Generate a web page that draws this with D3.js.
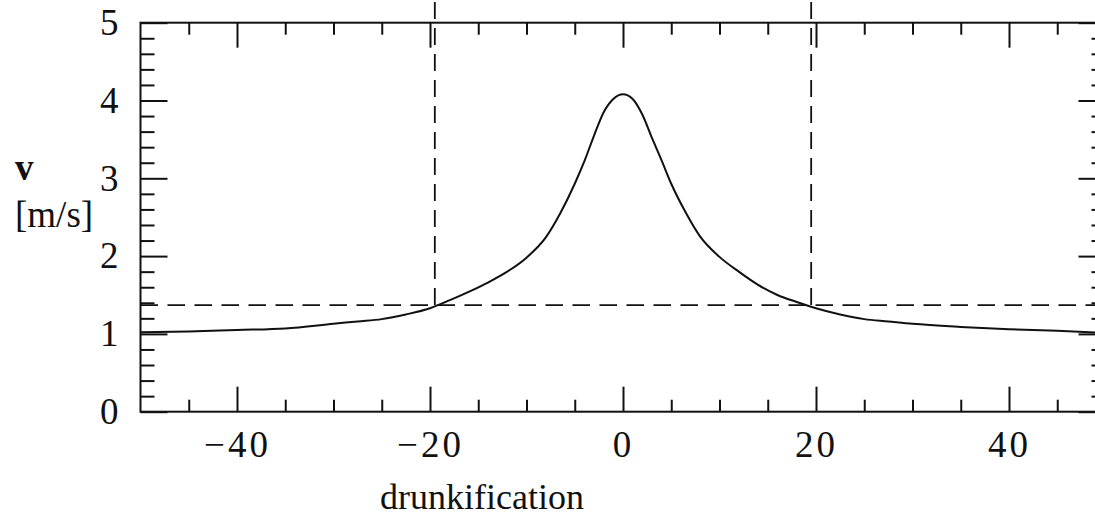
<!DOCTYPE html>
<html>
<head>
<meta charset="utf-8">
<script src="https://cdn.jsdelivr.net/npm/d3@7"></script>
<style>
  body { margin: 0; background: #fff; }
  svg { display: block; }
  text { font-family: "Liberation Serif", "DejaVu Serif", serif; fill: #111; }
</style>
</head>
<body>
<div id="main"></div>
<script>
// curve: drunkification -> v [m/s]
var drunk = [-50, -45, -40, -35, -30, -27.5, -25, -22.5, -20, -18, -16, -14, -12, -10, -8, -6.5, -5, -4, -3, -2, -1, 0,
             1, 2, 3, 4, 5, 6.5, 8, 10, 12, 14, 16, 18, 20, 22.5, 25, 27.5, 30, 35, 40, 45, 50];
var speed = [1.02, 1.03, 1.05, 1.07, 1.13, 1.16, 1.19, 1.25, 1.33, 1.43, 1.54, 1.66, 1.80, 1.98, 2.24, 2.55, 2.93, 3.22, 3.55, 3.85, 4.02, 4.08,
             4.02, 3.82, 3.52, 3.23, 2.93, 2.56, 2.25, 1.99, 1.80, 1.63, 1.50, 1.41, 1.33, 1.25, 1.19, 1.16, 1.13, 1.09, 1.06, 1.04, 1.01];

// dashed guides
var guideX = [-19.5, 19.5];
var guideV = 1.37;

var xTicks = [-40, -20, 0, 20, 40];
var yTicks = [0, 1, 2, 3, 4, 5];

var width = 1095, height = 519;

var svg = d3.select("#main").append("svg")
  .attr("width", width)
  .attr("height", height);

var x = d3.scaleLinear().domain([-50, 50]).range([140.5, 1105.5]);
var y = d3.scaleLinear().domain([0, 5]).range([411.7, 22.7]);

var xMinor = d3.range(-45, 50, 5).filter(function(d) { return d % 20 !== 0; });
var yMinor = d3.range(0, 5.01, 0.2).filter(function(d) { return Math.abs(d - Math.round(d)) > 0.01; });

function styleAxis(g) {
  g.select(".domain").remove();
  g.selectAll(".tick line").attr("stroke", "#111").attr("stroke-width", 2);
}

// bottom axis
svg.append("g")
  .attr("transform", "translate(0," + y(0) + ")")
  .call(d3.axisBottom(x).tickValues(xTicks).tickSizeInner(-25).tickSizeOuter(0).tickPadding(19)
    .tickFormat(function(d) { return d < 0 ? "\u2212" + Math.abs(d) : d; }))
  .call(styleAxis)
  .selectAll("text")
  .attr("font-size", 37)
  .attr("letter-spacing", "3px")
  .attr("font-family", "Liberation Serif, serif")
  .attr("fill", "#111");

svg.append("g")
  .attr("transform", "translate(0," + y(0) + ")")
  .call(d3.axisBottom(x).tickValues(xMinor).tickSizeInner(-12).tickSizeOuter(0).tickFormat(""))
  .call(styleAxis);

// top axis
svg.append("g")
  .attr("transform", "translate(0," + y(5) + ")")
  .call(d3.axisTop(x).tickValues(xTicks).tickSizeInner(-25).tickSizeOuter(0).tickFormat(""))
  .call(styleAxis);

svg.append("g")
  .attr("transform", "translate(0," + y(5) + ")")
  .call(d3.axisTop(x).tickValues(xMinor).tickSizeInner(-12).tickSizeOuter(0).tickFormat(""))
  .call(styleAxis);

// left axis
svg.append("g")
  .attr("transform", "translate(" + x(-50) + ",0)")
  .call(d3.axisLeft(y).tickValues(yTicks).tickSizeInner(-27).tickSizeOuter(0).tickPadding(22)
    .tickFormat(d3.format("d")))
  .call(styleAxis)
  .selectAll("text")
  .attr("font-size", 37)
  .attr("font-family", "Liberation Serif, serif")
  .attr("fill", "#111");

svg.append("g")
  .attr("transform", "translate(" + x(-50) + ",0)")
  .call(d3.axisLeft(y).tickValues(yMinor).tickSizeInner(-14).tickSizeOuter(0).tickFormat(""))
  .call(styleAxis);

// right axis
svg.append("g")
  .attr("transform", "translate(" + x(50) + ",0)")
  .call(d3.axisRight(y).tickValues(yTicks).tickSizeInner(-27).tickSizeOuter(0).tickFormat(""))
  .call(styleAxis);

svg.append("g")
  .attr("transform", "translate(" + x(50) + ",0)")
  .call(d3.axisRight(y).tickValues(yMinor).tickSizeInner(-14).tickSizeOuter(0).tickFormat(""))
  .call(styleAxis);

// frame
svg.append("rect")
  .attr("x", x(-50))
  .attr("y", y(5))
  .attr("width", x(50) - x(-50))
  .attr("height", y(0) - y(5))
  .attr("fill", "none")
  .attr("stroke", "#111")
  .attr("stroke-width", 2);

// dashed guides
svg.append("line")
  .attr("x1", x(-50)).attr("x2", x(50))
  .attr("y1", y(guideV)).attr("y2", y(guideV))
  .attr("stroke", "#111")
  .attr("stroke-width", 1.8)
  .attr("stroke-dasharray", "17.5,9.5");

guideX.forEach(function(d) {
  svg.append("line")
    .attr("x1", x(d)).attr("x2", x(d))
    .attr("y1", y(guideV)).attr("y2", y(5.4))
    .attr("stroke", "#111")
    .attr("stroke-width", 1.8)
    .attr("stroke-dasharray", "17,9");
});

// curve
var pts = drunk.map(function(d, i) { return [d, speed[i]]; });

var line = d3.line()
  .x(function(d) { return x(d[0]); })
  .y(function(d) { return y(d[1]); })
  .curve(d3.curveMonotoneX);

svg.append("path")
  .datum(pts)
  .attr("fill", "none")
  .attr("stroke", "#111")
  .attr("stroke-width", 2)
  .attr("d", line);

// axis titles
svg.append("text")
  .attr("x", 15)
  .attr("y", 180)
  .attr("font-size", 37)
  .attr("font-weight", "bold")
  .text("v");

svg.append("text")
  .attr("x", 15)
  .attr("y", 227)
  .attr("font-size", 37)
  .text("[m/s]");

svg.append("text")
  .attr("x", 482)
  .attr("y", 509)
  .attr("text-anchor", "middle")
  .attr("font-size", 36)
  .text("drunkification");
</script>
</body>
</html>
